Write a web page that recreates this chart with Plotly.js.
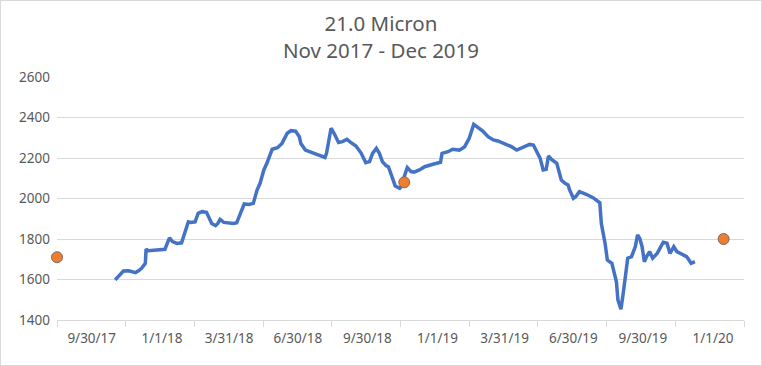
<!DOCTYPE html>
<html>
<head>
<meta charset="utf-8">
<script src="https://cdn.plot.ly/plotly-3.0.1.min.js"></script>
<style>
html,body{margin:0;padding:0;background:#fff;}
#wrap{position:relative;width:762px;height:366px;}
#chart{width:762px;height:366px;}
#frame{position:absolute;left:0;top:0;width:762px;height:366px;box-sizing:border-box;border:1px solid #d9d9d9;pointer-events:none;}
</style>
</head>
<body>
<div id="wrap"><div id="chart"></div><div id="frame"></div></div>
<script>
// Price series (21.0 micron)
const dates = [
"2017-10-31","2017-11-07","2017-11-11","2017-11-18","2017-11-27","2017-12-01","2017-12-05","2017-12-10","2017-12-11","2017-12-14",
"2018-01-05","2018-01-08","2018-01-11","2018-01-15","2018-01-21","2018-01-27","2018-02-01","2018-02-05","2018-02-08","2018-02-14",
"2018-02-18","2018-02-23","2018-03-01","2018-03-04","2018-03-08","2018-03-13","2018-03-16","2018-03-19","2018-03-24","2018-04-06",
"2018-04-10","2018-04-15","2018-04-20","2018-04-26","2018-05-02","2018-05-07","2018-05-11","2018-05-16","2018-05-20","2018-05-27",
"2018-06-03","2018-06-09","2018-06-16","2018-06-21","2018-06-27","2018-07-02","2018-07-04","2018-07-10","2018-07-21","2018-08-05",
"2018-08-07","2018-08-13","2018-08-17","2018-08-23","2018-08-28","2018-09-03","2018-09-08","2018-09-15","2018-09-22","2018-09-28",
"2018-10-03","2018-10-07","2018-10-12","2018-10-16","2018-10-20","2018-10-25","2018-10-28","2018-10-31","2018-11-06","2018-11-12",
"2018-11-16","2018-11-18","2018-11-22","2018-11-27","2018-12-01","2018-12-08","2018-12-15","2018-12-26","2019-01-05","2019-01-07",
"2019-01-15","2019-01-21","2019-01-30","2019-02-06","2019-02-12","2019-02-18","2019-02-24","2019-03-02","2019-03-09","2019-03-16",
"2019-03-22","2019-03-31","2019-04-09","2019-04-16","2019-04-25","2019-05-03","2019-05-08","2019-05-12","2019-05-17","2019-05-21",
"2019-05-25","2019-05-28","2019-06-01","2019-06-08","2019-06-10","2019-06-14","2019-06-19","2019-06-23","2019-06-25","2019-06-30",
"2019-07-03","2019-07-08","2019-07-17","2019-07-26","2019-08-04","2019-08-06","2019-08-11","2019-08-14","2019-08-20","2019-08-26",
"2019-08-28","2019-09-01","2019-09-04","2019-09-10","2019-09-15","2019-09-20","2019-09-23","2019-09-26","2019-09-29","2019-10-02",
"2019-10-05","2019-10-09","2019-10-13","2019-10-19","2019-10-27","2019-11-01","2019-11-05","2019-11-10","2019-11-14","2019-11-21",
"2019-11-27","2019-12-03","2019-12-08"
];
const prices = [
1598,1630,1642,1643,1634,1643,1655,1680,1750,1742,
1749,1778,1806,1787,1778,1781,1836,1885,1882,1885,
1927,1935,1932,1910,1877,1866,1877,1897,1882,1877,
1880,1927,1973,1971,1976,2042,2075,2141,2174,2243,
2251,2272,2322,2335,2333,2305,2272,2239,2223,2203,
2223,2347,2322,2277,2281,2292,2277,2259,2223,2177,
2182,2223,2248,2223,2182,2162,2157,2124,2062,2050,
2067,2108,2153,2133,2130,2141,2157,2169,2179,2223,
2231,2243,2239,2256,2297,2366,2347,2333,2305,2289,
2284,2269,2256,2239,2256,2267,2264,2231,2198,2141,
2144,2210,2193,2174,2149,2091,2075,2067,2042,2001,
2009,2034,2021,2004,1979,1877,1778,1696,1680,1589,
1499,1453,1532,1705,1713,1762,1820,1803,1762,1688,
1713,1738,1705,1729,1784,1779,1729,1762,1738,1726,
1713,1680,1688
];
// Highlighted points
const pointDates = ["2017-08-15","2018-11-18","2020-01-15"];
const pointValues = [1710,2080,1800];
// Axis labels
const tickDates = ["2017-09-30","2018-01-01","2018-03-31","2018-06-30","2018-09-30","2019-01-01","2019-03-31","2019-06-30","2019-09-30","2020-01-01"];
const tickLabels = ["9/30/17","1/1/18","3/31/18","6/30/18","9/30/18","1/1/19","3/31/19","6/30/19","9/30/19","1/1/20"];
const quarterEdges = ["2017-08-15","2017-11-14","2018-02-13","2018-05-15","2018-08-14","2018-11-13","2019-02-12","2019-05-14","2019-08-13","2019-11-12","2020-02-11"];
const yTicks = [1400,1600,1800,2000,2200,2400,2600];

const gray = '#595959';
const traces = [
  {x: dates, y: prices, type:'scatter', mode:'lines',
   line:{color:'#4472C4', width:3.5}, hoverinfo:'x+y'},
  {x: pointDates, y: pointValues, type:'scatter', mode:'markers', cliponaxis:false,
   marker:{color:'#ED7D31', size:11, line:{color:'#7f6a5a', width:1}}}
];
const layout = {
  width:762, height:366,
  margin:{l:57, r:18, t:77, b:46},
  paper_bgcolor:'#fff', plot_bgcolor:'#fff',
  showlegend:false,
  font:{family:'"Noto Sans", sans-serif', color:gray},
  title:{text:'21.0 Micron<br>Nov 2017 - Dec 2019', x:0.5, xref:'container', xanchor:'center',
         y:0.915, yref:'container', yanchor:'top', font:{size:20.5, color:gray}},
  xaxis:{type:'date', range:[quarterEdges[0], quarterEdges[quarterEdges.length-1]],
         tickmode:'array', tickvals:tickDates, ticktext:tickLabels, ticks:'',
         ticklabelstandoff:6,
         showgrid:false, zeroline:false, showline:true, linecolor:'#d9d9d9', linewidth:1,
         tickfont:{size:13.5, color:gray},
         minor:{tickmode:'array', tickvals:quarterEdges, ticks:'outside', ticklen:6, tickcolor:'#d9d9d9', tickwidth:1, showgrid:false}},
  yaxis:{range:[1400,2600], tickmode:'array', tickvals:yTicks, ticks:'',
         ticklabelstandoff:6,
         showgrid:true, gridcolor:'#d9d9d9', gridwidth:1, zeroline:false, showline:false,
         tickfont:{size:13.5, color:gray}}
};
Plotly.newPlot('chart', traces, layout, {displayModeBar:false, staticPlot:true});
</script>
</body>
</html>
